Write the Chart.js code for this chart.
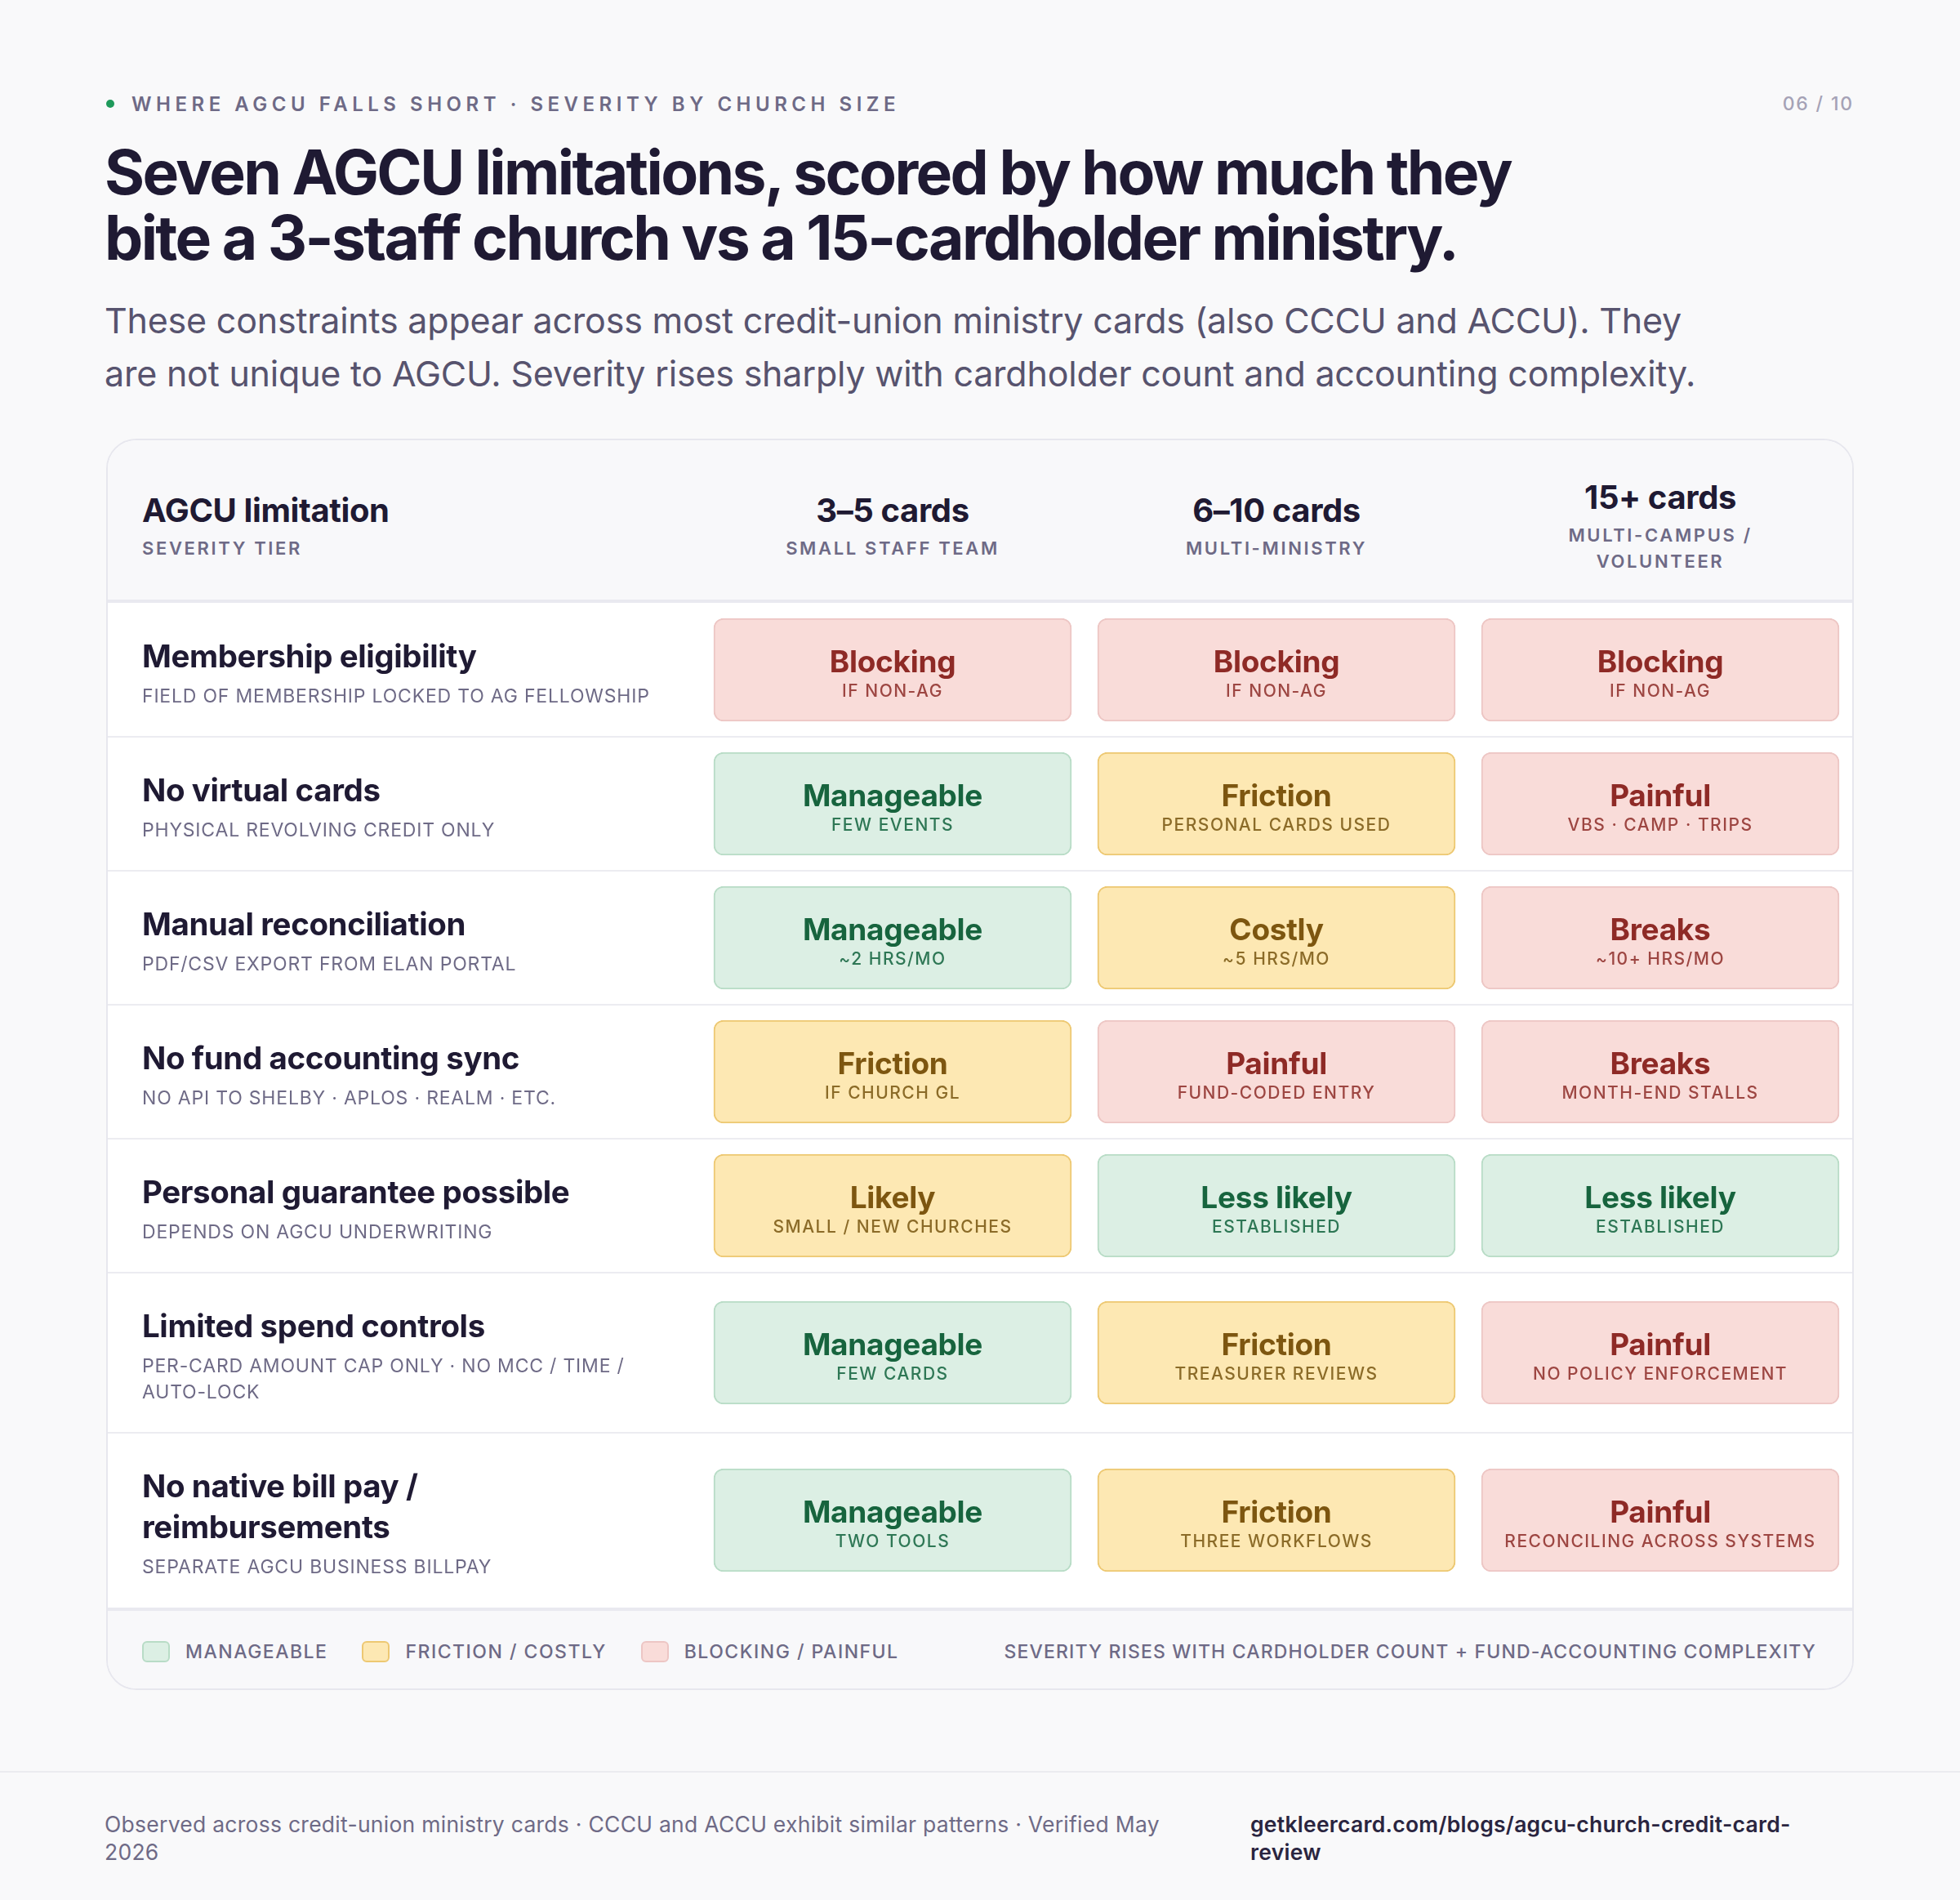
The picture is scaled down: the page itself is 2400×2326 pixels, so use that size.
<!DOCTYPE html>
<html>
<head>
<meta charset="utf-8">
<title>AGCU limitations by church size</title>
<script src="https://cdn.jsdelivr.net/npm/chart.js"></script>
<style>
  html, body { margin: 0; padding: 0; }
  body {
    width: 2400px; height: 2326px; background: #f9f9fa;
    font-family: Inter, "Noto Sans", sans-serif; color: #1f1a33;
    position: relative; overflow: hidden;
  }
  .eyebrow {
    position: absolute; left: 130px; top: 110px; height: 34px;
    display: flex; align-items: center;
    font-size: 24px; font-weight: 600; letter-spacing: 0.23em; color: #6e6a86;
  }
  .eyebrow .dot { width: 10px; height: 10px; border-radius: 50%; background: #1f9a5b; margin-right: 21px; }
  .page-no { position: absolute; right: 130px; top: 110px; line-height: 34px; font-size: 23px; letter-spacing: 0.08em; color: #a5a2b6; font-weight: 500; }
  h1 {
    position: absolute; left: 128px; top: 171px; margin: 0;
    font-size: 75px; line-height: 80px; font-weight: 700; letter-spacing: -0.035em; color: #1f1a33;
  }
  .lede {
    position: absolute; left: 128px; top: 360px; margin: 0;
    font-size: 43px; line-height: 65px; font-weight: 400; color: #57536e; letter-spacing: -0.005em;
  }
  .card {
    position: absolute; left: 130px; top: 537px; width: 2136px;
    border: 2px solid #e7e7ee; border-radius: 37px; background: #fff; overflow: hidden;
  }
  .head {
    height: 199px; background: #f8f8fa; border-bottom: 4px solid #e9e9f0;
    box-sizing: border-box; position: relative;
  }
  .head .cell { position: absolute; top: 0; height: 195px; display: flex; flex-direction: column; justify-content: center; padding-top: 14px; box-sizing: border-box; }
  .head .t { font-size: 40px; line-height: 48px; font-weight: 700; color: #1f1a33; letter-spacing: -0.01em; }
  .head .s { margin-top: 6px; font-size: 22px; line-height: 32px; font-weight: 600; letter-spacing: 0.12em; color: #6e6a86; }
  .wrap { position: relative; width: 2136px; }
  .legend {
    height: 99px; background: #f8f8fa; border-top: 4px solid #e9e9f0; box-sizing: border-box;
    display: flex; align-items: center; padding: 4px 44px 0 42px;
    font-size: 23px; letter-spacing: 0.065em; color: #6e6a86; font-weight: 500;
  }
  .legend .sw { width: 34px; height: 26px; border-radius: 6px; border: 2px solid; box-sizing: border-box; margin-right: 19px; }
  .legend .item { display: flex; align-items: center; margin-right: 42px; }
  .legend .note { margin-left: auto; letter-spacing: 0.05em; }
  .rule { position: absolute; left: 0; top: 2168px; width: 2400px; height: 2px; background: #ececf0; }
  .foot-l { position: absolute; left: 128px; top: 2216px; width: 1400px; font-size: 26.5px; line-height: 34px; color: #6e6a86; letter-spacing: 0.01em; }
  .foot-r { position: absolute; left: 1531px; top: 2216px; font-size: 26.5px; line-height: 34px; color: #2a2540; font-weight: 600; letter-spacing: 0.01em; }
</style>
</head>
<body>
<div class="eyebrow"><span class="dot"></span>WHERE AGCU FALLS SHORT · SEVERITY BY CHURCH SIZE</div>
<div class="page-no">06 / 10</div>
<h1>Seven AGCU limitations, scored by how much they<br>bite a 3-staff church vs a 15-cardholder ministry.</h1>
<p class="lede">These constraints appear across most credit-union ministry cards (also CCCU and ACCU). They<br>are not unique to AGCU. Severity rises sharply with cardholder count and accounting complexity.</p>

<div class="card">
  <div class="head" id="head"></div>
  <div class="wrap" id="wrap"><canvas id="severityChart"></canvas></div>
  <div class="legend" id="legend"></div>
</div>

<div class="rule"></div>
<div class="foot-l">Observed across credit-union ministry cards · CCCU and ACCU exhibit similar patterns · Verified May<br>2026</div>
<div class="foot-r">getkleercard.com/blogs/agcu-church-credit-card-<br>review</div>

<script>
// columns (church size)
var columns = ['3–5 cards', '6–10 cards', '15+ cards'];
var columnNotes = [['SMALL STAFF TEAM'], ['MULTI-MINISTRY'], ['MULTI-CAMPUS /', 'VOLUNTEER']];

// rows (limitations), wrapped the way the original lays them out
var limitations = [
  ['Membership eligibility'],
  ['No virtual cards'],
  ['Manual reconciliation'],
  ['No fund accounting sync'],
  ['Personal guarantee possible'],
  ['Limited spend controls'],
  ['No native bill pay /', 'reimbursements']
];
var limitationNotes = [
  ['FIELD OF MEMBERSHIP LOCKED TO AG FELLOWSHIP'],
  ['PHYSICAL REVOLVING CREDIT ONLY'],
  ['PDF/CSV EXPORT FROM ELAN PORTAL'],
  ['NO API TO SHELBY · APLOS · REALM · ETC.'],
  ['DEPENDS ON AGCU UNDERWRITING'],
  ['PER-CARD AMOUNT CAP ONLY · NO MCC / TIME /', 'AUTO-LOCK'],
  ['SEPARATE AGCU BUSINESS BILLPAY']
];

// severity: 1 = manageable, 2 = friction / costly, 3 = blocking / painful
var severitySmall = [3, 1, 1, 2, 2, 1, 1];
var severityMid   = [3, 2, 2, 3, 1, 2, 2];
var severityLarge = [3, 3, 3, 3, 1, 3, 3];

var verdictSmall = ['Blocking', 'Manageable', 'Manageable', 'Friction', 'Likely', 'Manageable', 'Manageable'];
var verdictMid   = ['Blocking', 'Friction', 'Costly', 'Painful', 'Less likely', 'Friction', 'Friction'];
var verdictLarge = ['Blocking', 'Painful', 'Breaks', 'Breaks', 'Less likely', 'Painful', 'Painful'];

var detailSmall = ['IF NON-AG', 'FEW EVENTS', '~2 HRS/MO', 'IF CHURCH GL', 'SMALL / NEW CHURCHES', 'FEW CARDS', 'TWO TOOLS'];
var detailMid   = ['IF NON-AG', 'PERSONAL CARDS USED', '~5 HRS/MO', 'FUND-CODED ENTRY', 'ESTABLISHED', 'TREASURER REVIEWS', 'THREE WORKFLOWS'];
var detailLarge = ['IF NON-AG', 'VBS · CAMP · TRIPS', '~10+ HRS/MO', 'MONTH-END STALLS', 'ESTABLISHED', 'NO POLICY ENFORCEMENT', 'RECONCILING ACROSS SYSTEMS'];

var legendLabels = ['MANAGEABLE', 'FRICTION / COSTLY', 'BLOCKING / PAINFUL'];

var severities = [severitySmall, severityMid, severityLarge];
var verdicts = [verdictSmall, verdictMid, verdictLarge];
var details = [detailSmall, detailMid, detailLarge];

// palette per severity level
var palette = {
  1: { bg: '#dcefe4', border: '#b8dcc6', title: '#17643e', sub: '#2e7755' },
  2: { bg: '#fde8b3', border: '#edc872', title: '#7d5610', sub: '#8b6b28' },
  3: { bg: '#f9dcd9', border: '#edc6c4', title: '#8e2a26', sub: '#9d4642' }
};

var LEFT_W = 726;      // width of the label column inside the card
var COL_W = 470;
var INSET = 16 / COL_W;

// header
var head = document.getElementById('head');
var h0 = document.createElement('div');
h0.className = 'cell';
h0.style.left = '42px';
h0.innerHTML = '<div class="t">AGCU limitation</div><div class="s">SEVERITY TIER</div>';
head.appendChild(h0);
columns.forEach(function(c, i) {
  var d = document.createElement('div');
  d.className = 'cell';
  d.style.left = (LEFT_W + i * COL_W) + 'px';
  d.style.width = COL_W + 'px';
  d.style.alignItems = 'center';
  d.style.textAlign = 'center';
  d.innerHTML = '<div class="t">' + c + '</div><div class="s">' + columnNotes[i].join('<br>') + '</div>';
  head.appendChild(d);
});

// legend
var legend = document.getElementById('legend');
legendLabels.forEach(function(l, i) {
  var p = palette[i + 1];
  var d = document.createElement('div');
  d.className = 'item';
  d.innerHTML = '<span class="sw" style="background:' + p.bg + ';border-color:' + p.border + '"></span>' + l;
  legend.appendChild(d);
});
var note = document.createElement('div');
note.className = 'note';
note.textContent = 'SEVERITY RISES WITH CARDHOLDER COUNT + FUND-ACCOUNTING COMPLEXITY';
legend.appendChild(note);

// row heights follow the number of wrapped lines
var TITLE_LH = 50, SUB_LH = 32;
var rowTops = [], rowHeights = [], rowCenters = [];
var total = 0;
limitations.forEach(function(t, i) {
  var h = 164 + TITLE_LH * (t.length - 1) + SUB_LH * (limitationNotes[i].length - 1);
  rowTops.push(total);
  rowHeights.push(h);
  rowCenters.push(total + h / 2);
  total += h;
});

var wrap = document.getElementById('wrap');
wrap.style.height = total + 'px';

var datasets = columns.map(function(c, ci) {
  return {
    label: c,
    data: limitations.map(function(l, ri) {
      return { x: [ci + INSET, ci + 1 - INSET], y: rowCenters[ri] };
    }),
    backgroundColor: severities[ci].map(function(s) { return palette[s].bg; }),
    borderColor: severities[ci].map(function(s) { return palette[s].border; }),
    borderWidth: 2,
    borderSkipped: false,
    borderRadius: 12,
    barThickness: 126,
    grouped: false
  };
});

function spaced(ctx, text, x, y, spacing) {
  ctx.letterSpacing = spacing + 'px';
  ctx.fillText(text, x, y);
  ctx.letterSpacing = '0px';
}

var tablePlugin = {
  id: 'tableText',
  beforeDatasetsDraw: function(chart) {
    var ctx = chart.ctx;
    var yScale = chart.scales.y;
    ctx.save();
    ctx.fillStyle = '#ececf1';
    for (var i = 1; i < rowTops.length; i++) {
      var y = yScale.getPixelForValue(rowTops[i]);
      ctx.fillRect(0, y - 1, chart.width, 2);
    }
    ctx.restore();
  },
  afterDatasetsDraw: function(chart) {
    var ctx = chart.ctx;
    var yScale = chart.scales.y;
    ctx.save();
    ctx.textBaseline = 'middle';
    // left labels
    limitations.forEach(function(lines, ri) {
      var top = yScale.getPixelForValue(rowTops[ri]);
      ctx.textAlign = 'left';
      ctx.fillStyle = '#1f1a33';
      ctx.font = '700 38.5px Inter';
      lines.forEach(function(line, k) {
        spaced(ctx, line, 42, top + 67 + TITLE_LH * k, -0.4);
      });
      ctx.fillStyle = '#6e6a86';
      ctx.font = '400 23px Inter';
      var subTop = top + 67 + TITLE_LH * (lines.length - 1) + 48;
      limitationNotes[ri].forEach(function(line, k) {
        spaced(ctx, line, 42, subTop + SUB_LH * k, 0.8);
      });
    });
    // cell labels
    chart.data.datasets.forEach(function(ds, ci) {
      var meta = chart.getDatasetMeta(ci);
      meta.data.forEach(function(bar, ri) {
        var p = palette[severities[ci][ri]];
        var cx = bar.base + (bar.x - bar.base) / 2;
        ctx.textAlign = 'center';
        ctx.fillStyle = p.title;
        ctx.font = '700 37px Inter';
        spaced(ctx, verdicts[ci][ri], cx, bar.y - 8, -0.3);
        ctx.fillStyle = p.sub;
        ctx.font = '500 21px Inter';
        spaced(ctx, details[ci][ri], cx, bar.y + 27, 1.5);
      });
    });
    ctx.restore();
  }
};

new Chart(document.getElementById('severityChart'), {
  type: 'bar',
  data: { datasets: datasets },
  options: {
    indexAxis: 'y',
    responsive: true,
    maintainAspectRatio: false,
    animation: false,
    layout: { padding: { left: LEFT_W, right: 0, top: 0, bottom: 0 } },
    scales: {
      x: { type: 'linear', min: 0, max: 3, display: false },
      y: { type: 'linear', min: 0, max: total, reverse: true, offset: false, display: false }
    },
    plugins: {
      legend: { display: false },
      tooltip: { enabled: false }
    }
  },
  plugins: [tablePlugin]
});
</script>
</body>
</html>
